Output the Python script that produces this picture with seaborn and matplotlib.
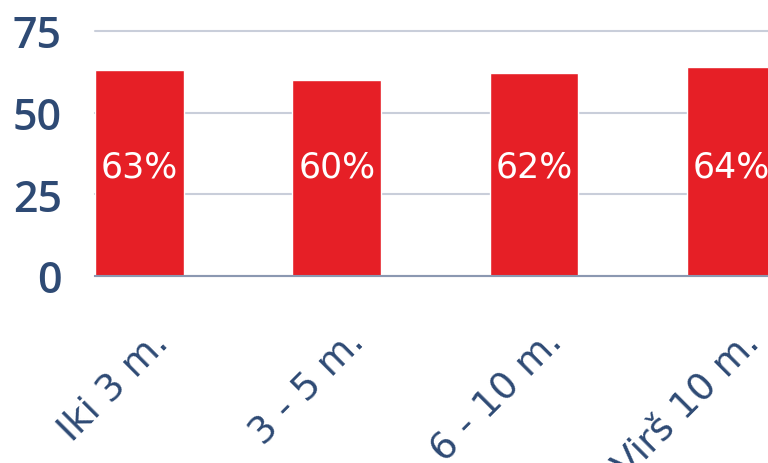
import matplotlib
matplotlib.use("Agg")
import matplotlib.pyplot as plt
import matplotlib.transforms as mtransforms
import seaborn as sns
import pandas as pd

categories = ["Iki 3 m.", "3 - 5 m.", "6 - 10 m.", "Virš 10 m."]
values = [63, 60, 62, 64]
yticks = [0, 25, 50, 75]

df = pd.DataFrame({"cat": categories, "val": values})

sns.set_style("white")
plt.rcParams['font.family'] = ['Open Sans', 'DejaVu Sans']

fig = plt.figure(figsize=(7.68, 4.64), dpi=100)
# axes extends beyond right edge (cropped look)
ax = fig.add_axes([95/768, 1 - 277/464, (830-95)/768, (277-32)/464])

sns.barplot(data=df, x="cat", y="val", color="#e61f26", width=0.45,
            saturation=1, ax=ax, zorder=3)

ax.set_xlim(-0.226, 3.5)
ax.set_ylim(0, 75)
ax.set_yticks(yticks)
ax.yaxis.grid(True, color="#c9ceda", linewidth=1.5, zorder=0)
for gl in ax.get_ygridlines():
    gl.set_clip_on(False)
ax.set_axisbelow(True)
for s in ["top", "right", "left"]:
    ax.spines[s].set_visible(False)
ax.spines["bottom"].set_color("#8b98b1")
ax.spines["bottom"].set_linewidth(1.5)
ax.spines["bottom"].set_zorder(4)

txtcol = "#2e4a74"
ax.set_xlabel("")
ax.set_ylabel("")
ax.tick_params(axis="y", length=0, labelsize=31, labelcolor=txtcol, pad=24)
for lab in ax.get_yticklabels():
    lab.set_fontweight("semibold")
ax.tick_params(axis="x", length=0, labelsize=27, labelcolor=txtcol, pad=14)
offset = mtransforms.ScaledTranslation(0.10, -0.28, fig.dpi_scale_trans)
for lab in ax.get_xticklabels():
    lab.set_rotation(45)
    lab.set_ha("right")
    lab.set_va("top")
    lab.set_rotation_mode("anchor")
    lab.set_fontfamily(["DejaVu Sans"])
    lab.set_transform(lab.get_transform() + offset)

for patch, v in zip(ax.patches, values):
    ax.text(patch.get_x() + patch.get_width() / 2, 33.5, f"{v}%",
            ha="center", va="center", color="white", fontsize=25,
            family=["DejaVu Sans"], zorder=5)

fig.savefig("out.png", dpi=100)
